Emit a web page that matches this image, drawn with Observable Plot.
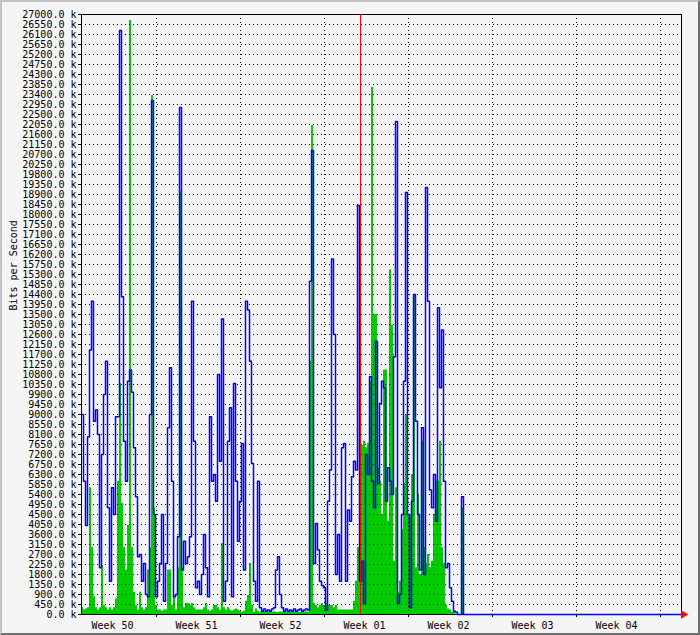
<!DOCTYPE html>
<html>
<head>
<meta charset="utf-8">
<script src="https://cdn.jsdelivr.net/npm/d3@7"></script>
<script src="https://cdn.jsdelivr.net/npm/@observablehq/plot@0.6"></script>
<style>
  html, body { margin: 0; padding: 0; background: #f5f5f5; }
  #wrap { position: relative; width: 700px; height: 635px; overflow: hidden; }
  #frame { position: absolute; left: 0; top: 0; width: 700px; height: 635px; box-sizing: border-box;
    border-style: solid; border-width: 2px 2px 2px 2px;
    border-color: #c4c4c4 #6f6f6f #6f6f6f #c4c4c4; pointer-events: none; }
  svg { display: block; }
</style>
</head>
<body>
<div id="wrap"><div id="frame"></div></div>
<script>
// ---- Data (values in k bits/s), one sample per 4 hours ----
const sampleHours = 4;

// Outgoing traffic (blue line)
const outValues = [
  9000, 6000, 4000, 8000, 11900, 14100, 8700, 9200, 8100, 2100,
  7200, 9900, 11400, 4800, 1500, 5700, 4500, 8900, 8900, 26280,
  14300, 7800, 6000, 10500, 11000, 10000, 7500, 5300, 2600, 2700,
  1500, 2300, 900, 800, 9000, 23130, 4500, 800, 1500, 2300,
  4500, 600, 2300, 8400, 11100, 6000, 800, 900, 3500, 22815,
  2000, 3300, 2300, 2600, 3500, 14100, 7800, 1200, 1500, 900,
  1800, 3600, 2100, 800, 8900, 6000, 6300, 5100, 10800, 6900,
  13300, 600, 1500, 7800, 9300, 800, 10400, 6000, 3300, 5100,
  7700, 2000, 14100, 13700, 11400, 6800, 1500, 600, 6000, 300,
  150, 250, 150, 200, 150, 250, 300, 2000, 2600, 900,
  300, 150, 250, 150, 200, 150, 250, 150, 200, 250,
  150, 200, 250, 200, 15000, 20880, 2300, 4100, 2900, 1500,
  1300, 1200, 200, 5100, 6500, 16000, 12600, 1800, 3600, 1500,
  7500, 7700, 1500, 4700, 4200, 6200, 6900, 6500, 18400, 1500,
  2400, 500, 7200, 6300, 10700, 6000, 4800, 12300, 5900, 9500,
  10500, 10200, 5100, 6600, 6000, 5400, 11600, 22185, 500, 900,
  4500, 10500, 18990, 4500, 300, 5100, 14400, 8700, 4500, 2000,
  8400, 1800, 19215, 14100, 5600, 4800, 6300, 4200, 13800, 10200,
  12800, 6000, 2100, 2300, 1200, 600, 150, 100, 0, 0,
  5300, 0
];

// Incoming traffic (green area)
const inValues = [
  300, 200, 250, 300, 5700, 3000, 800, 300, 200, 300,
  2200, 400, 300, 200, 300, 200, 300, 700, 6000, 10400,
  5000, 3000, 2000, 4000, 26730, 3000, 1000, 400, 200, 1000,
  300, 200, 300, 2000, 3000, 23355, 4800, 400, 200, 200,
  150, 200, 200, 2000, 2000, 400, 800, 200, 2100, 19000,
  2100, 300, 500, 500, 400, 500, 300, 200, 200, 200,
  200, 300, 500, 200, 150, 200, 400, 400, 300, 200,
  3200, 300, 200, 300, 200, 150, 200, 250, 200, 150,
  100, 150, 600, 850, 2300, 400, 100, 250, 150, 100,
  100, 120, 100, 90, 110, 100, 120, 100, 90, 110,
  100, 120, 100, 90, 110, 100, 100, 120, 100, 90,
  110, 100, 120, 100, 11400, 22005, 500, 400, 300, 400,
  500, 400, 500, 400, 400, 400, 300, 400, 200, 200,
  200, 200, 200, 200, 200, 200, 600, 1500, 3000, 7500,
  7600, 7800, 7500, 7700, 10500, 23715, 13500, 13500, 6600, 6000,
  4500, 11000, 11000, 4200, 15500, 13000, 2400, 5700, 1000, 1500,
  3800, 5900, 9000, 4500, 4500, 6300, 14400, 2100, 5400, 1800,
  7800, 3000, 2300, 2700, 2100, 2400, 4500, 6000, 6000, 7800,
  3000, 2300, 400, 250, 200, 100, 100, 0, 0, 0,
  4800, 0
];

// Axis definitions
const totalHours = 1200;           // 600 columns x 2 hours
const yMax = 27000;
const yStep = 450;
const weekTickHours = [150, 318, 486, 654, 822, 990, 1158];
const weekLabels = ["Week 50", "Week 51", "Week 52", "Week 01", "Week 02", "Week 03", "Week 04"];
const weekLabelHours = [62, 230, 398, 566, 734, 902, 1070];
const markerHour = 558;            // red vertical marker
const yTitle = "Bits per Second";

const yTicks = d3.range(0, yMax + 1, yStep);
const data = outValues.map((v, i) => ({t: i * sampleHours, out: v, inn: inValues[i]}));
const dataEnd = (outValues.length - 1) * sampleHours;

const dotted = {stroke: "black", strokeOpacity: 1, strokeDasharray: "1,3", strokeWidth: 1};

const chart = Plot.plot({
  width: 700,
  height: 635,
  marginLeft: 81,
  marginRight: 19,
  marginTop: 14,
  marginBottom: 21,
  style: {background: "#f5f5f5", fontFamily: "'DejaVu Sans Mono', monospace", fontSize: "10px", color: "black"},
  x: {domain: [0, totalHours], axis: null},
  y: {domain: [0, yMax], axis: null},
  marks: [
    Plot.areaY(data, {x: "t", y: "inn", curve: "step-after", fill: "#00cc00"}),
    Plot.gridY(yTicks, dotted),
    Plot.gridX(weekTickHours, dotted),
    Plot.ruleY([0, yMax], {stroke: "black"}),
    Plot.ruleX([0, totalHours], {stroke: "black"}),
    Plot.lineY(data, {x: "t", y: "out", curve: "step-after", stroke: "#0000ff", strokeWidth: 1.5}),
    Plot.ruleY([0], {x1: dataEnd, x2: totalHours, stroke: "#0000ff", strokeWidth: 1.5}),
    Plot.ruleX([markerHour], {stroke: "#ff0000"}),
    Plot.axisY(yTicks, {tickSize: 3, tickPadding: 2, tickFormat: d => d.toFixed(1) + " k", label: null}),
    Plot.axisX(weekTickHours, {tickSize: 3, tickFormat: () => "", label: null}),
    Plot.text(weekLabels, {x: weekLabelHours, text: d => d, frameAnchor: "bottom", lineAnchor: "middle", dy: 11, fill: "black"}),
    Plot.text([yTitle], {text: d => d, frameAnchor: "left", rotate: -90, dx: -68, dy: -4, lineAnchor: "middle", fill: "black"}),
    Plot.dot([0], {x: () => totalHours, y: () => 0, symbol: "triangle", rotate: 90, r: 3.2, fill: "#ff0000", stroke: null, dx: 2})
  ]
});
document.getElementById("wrap").insertBefore(chart, document.getElementById("frame"));
</script>
</body>
</html>
